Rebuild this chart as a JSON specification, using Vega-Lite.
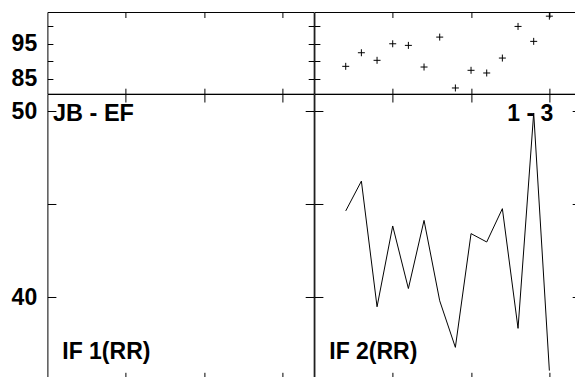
{
  "$schema": "https://vega.github.io/schema/vega-lite/v6.json",
  "padding": {"left": 10.4, "top": 10, "right": 0, "bottom": 0},
  "background": "white",
  "config": {"view": {"stroke": "black", "strokeWidth": 1}},
  "columns": 2,
  "spacing": 0,
  "align": "each",
  "bounds": "flush",
  "datasets": {
    "dots": [
      {"x": 2, "y": 88.54}, {"x": 3, "y": 92.43}, {"x": 4, "y": 90.26}, {"x": 5, "y": 95.0},
      {"x": 6, "y": 94.54}, {"x": 7, "y": 88.34}, {"x": 8, "y": 96.91}, {"x": 9, "y": 82.34},
      {"x": 10, "y": 87.4}, {"x": 11, "y": 86.63}, {"x": 12, "y": 90.91}, {"x": 13, "y": 99.97},
      {"x": 14, "y": 95.69}, {"x": 15, "y": 102.91}
    ],
    "line": [
      {"x": 2, "y": 44.65}, {"x": 3, "y": 46.25}, {"x": 4, "y": 39.5}, {"x": 5, "y": 43.84},
      {"x": 6, "y": 40.48}, {"x": 7, "y": 44.14}, {"x": 8, "y": 39.82}, {"x": 9, "y": 37.32},
      {"x": 10, "y": 43.43}, {"x": 11, "y": 42.98}, {"x": 12, "y": 44.77}, {"x": 13, "y": 38.34},
      {"x": 14, "y": 49.91}, {"x": 15, "y": 36.07}
    ]
  },
  "concat": [
    {
      "width": 266.3, "height": 81.7,
      "layer": [
        {"data": {"values": [{}]}, "mark": {"type": "point", "opacity": 0},
         "encoding": {
           "x": {"datum": 8.5, "type": "quantitative", "scale": {"domain": [0, 17], "nice": false, "zero": false},
                 "axis": {"orient": "bottom", "values": [5, 10, 15], "labels": false, "tickSize": -5.5, "domain": false, "grid": false, "tickColor": "black", "title": null}},
           "y": {"datum": 92, "type": "quantitative", "scale": {"domain": [80.7, 104.1], "nice": false, "zero": false},
                 "axis": {"orient": "left", "values": [85, 90, 95, 100], "labelExpr": "datum.value % 10 == 5 ? datum.label : ''", "tickSize": -5.5, "labelPadding": 16.2, "labelFont": "Liberation Sans", "labelFontSize": 23, "labelFontWeight": "bold", "labelColor": "black", "labelFlush": false, "labelOverlap": false, "domain": false, "grid": false, "tickColor": "black", "title": null}}
         }},
        {"data": {"values": [{}]}, "mark": {"type": "point", "opacity": 0},
         "encoding": {
           "x": {"datum": 8.5, "type": "quantitative", "scale": {"domain": [0, 17], "nice": false, "zero": false},
                 "axis": {"orient": "top", "values": [5, 10, 15], "labels": false, "tickSize": -5.5, "domain": false, "grid": false, "tickColor": "black", "title": null}},
           "y": {"datum": 92, "type": "quantitative", "scale": {"domain": [80.7, 104.1], "nice": false, "zero": false},
                 "axis": {"orient": "right", "values": [85, 90, 95, 100], "labels": false, "tickSize": -5.5, "domain": false, "grid": false, "tickColor": "black", "title": null}}
         }}
      ],
      "resolve": {"axis": {"x": "independent", "y": "independent"}}
    },
    {
      "width": 266.3, "height": 81.7,
      "layer": [
        {"data": {"values": [{}]}, "mark": {"type": "point", "opacity": 0},
         "encoding": {
           "x": {"datum": 8.5, "type": "quantitative", "scale": {"domain": [0, 17], "nice": false, "zero": false},
                 "axis": {"orient": "bottom", "values": [5, 10, 15], "labels": false, "tickSize": -5.5, "domain": false, "grid": false, "tickColor": "black", "title": null}},
           "y": {"datum": 92, "type": "quantitative", "scale": {"domain": [80.7, 104.1], "nice": false, "zero": false},
                 "axis": {"orient": "left", "values": [85, 90, 95, 100], "labels": false, "tickSize": -5.5, "domain": false, "grid": false, "tickColor": "black", "title": null}}
         }},
        {"data": {"values": [{}]}, "mark": {"type": "point", "opacity": 0},
         "encoding": {
           "x": {"datum": 8.5, "type": "quantitative", "scale": {"domain": [0, 17], "nice": false, "zero": false},
                 "axis": {"orient": "top", "values": [5, 10, 15], "labels": false, "tickSize": -5.5, "domain": false, "grid": false, "tickColor": "black", "title": null}},
           "y": {"datum": 92, "type": "quantitative", "scale": {"domain": [80.7, 104.1], "nice": false, "zero": false},
                 "axis": {"orient": "right", "values": [85, 90, 95, 100], "labels": false, "tickSize": -5.5, "domain": false, "grid": false, "tickColor": "black", "title": null}}
         }},
        {"data": {"name": "dots"},
         "mark": {"type": "point", "shape": "M-1,0H1M0,-1V1", "size": 49, "filled": false, "stroke": "black", "strokeWidth": 1, "opacity": 1},
         "encoding": {
           "x": {"field": "x", "type": "quantitative", "scale": {"domain": [0, 17], "nice": false, "zero": false}, "axis": null},
           "y": {"field": "y", "type": "quantitative", "scale": {"domain": [80.7, 104.1], "nice": false, "zero": false}, "axis": null}
         }}
      ],
      "resolve": {"axis": {"x": "independent", "y": "independent"}}
    },
    {
      "width": 266.3, "height": 286.3,
      "layer": [
        {"data": {"values": [{}]}, "mark": {"type": "point", "opacity": 0},
         "encoding": {
           "x": {"datum": 8.5, "type": "quantitative", "scale": {"domain": [0, 17], "nice": false, "zero": false},
                 "axis": {"orient": "bottom", "values": [5, 10, 15], "labels": false, "tickSize": -8, "domain": false, "grid": false, "tickColor": "black", "title": null}},
           "y": {"datum": 43, "type": "quantitative", "scale": {"domain": [35.55, 50.93], "nice": false, "zero": false},
                 "axis": {"orient": "left", "values": [40, 45, 50], "labelExpr": "datum.value % 10 == 0 ? datum.label : ''", "tickSize": -8.5, "labelPadding": 19.2, "labelFont": "Liberation Sans", "labelFontSize": 23, "labelFontWeight": "bold", "labelColor": "black", "labelFlush": false, "labelOverlap": false, "domain": false, "grid": false, "tickColor": "black", "title": null}}
         }},
        {"data": {"values": [{}]}, "mark": {"type": "point", "opacity": 0},
         "encoding": {
           "x": {"datum": 8.5, "type": "quantitative", "scale": {"domain": [0, 17], "nice": false, "zero": false},
                 "axis": {"orient": "top", "values": [5, 10, 15], "labels": false, "tickSize": -8, "domain": false, "grid": false, "tickColor": "black", "title": null}},
           "y": {"datum": 43, "type": "quantitative", "scale": {"domain": [35.55, 50.93], "nice": false, "zero": false},
                 "axis": {"orient": "right", "values": [40, 45, 50], "labels": false, "tickSize": -8.5, "domain": false, "grid": false, "tickColor": "black", "title": null}}
         }},
        {"data": {"values": [{"label": "JB - EF"}]},
         "mark": {"type": "text", "align": "left", "baseline": "alphabetic", "font": "Liberation Sans", "fontSize": 23.5, "fontWeight": "bold", "color": "black"},
         "encoding": {
           "x": {"datum": 0.36, "type": "quantitative", "scale": {"domain": [0, 17], "nice": false, "zero": false}, "axis": null},
           "y": {"datum": 49.47, "type": "quantitative", "scale": {"domain": [35.55, 50.93], "nice": false, "zero": false}, "axis": null},
           "text": {"field": "label"}
         }},
        {"data": {"values": [{"label": "IF 1(RR)"}]},
         "mark": {"type": "text", "align": "left", "baseline": "alphabetic", "font": "Liberation Sans", "fontSize": 23, "fontWeight": "bold", "color": "black"},
         "encoding": {
           "x": {"datum": 0.95, "type": "quantitative", "scale": {"domain": [0, 17], "nice": false, "zero": false}, "axis": null},
           "y": {"datum": 36.68, "type": "quantitative", "scale": {"domain": [35.55, 50.93], "nice": false, "zero": false}, "axis": null},
           "text": {"field": "label"}
         }}
      ],
      "resolve": {"axis": {"x": "independent", "y": "independent"}}
    },
    {
      "width": 266.3, "height": 286.3,
      "layer": [
        {"data": {"values": [{}]}, "mark": {"type": "point", "opacity": 0},
         "encoding": {
           "x": {"datum": 8.5, "type": "quantitative", "scale": {"domain": [0, 17], "nice": false, "zero": false},
                 "axis": {"orient": "bottom", "values": [5, 10, 15], "labels": false, "tickSize": -8, "domain": false, "grid": false, "tickColor": "black", "title": null}},
           "y": {"datum": 43, "type": "quantitative", "scale": {"domain": [35.55, 50.93], "nice": false, "zero": false},
                 "axis": {"orient": "left", "values": [40, 45, 50], "labels": false, "tickSize": -8.5, "domain": false, "grid": false, "tickColor": "black", "title": null}}
         }},
        {"data": {"values": [{}]}, "mark": {"type": "point", "opacity": 0},
         "encoding": {
           "x": {"datum": 8.5, "type": "quantitative", "scale": {"domain": [0, 17], "nice": false, "zero": false},
                 "axis": {"orient": "top", "values": [5, 10, 15], "labels": false, "tickSize": -8, "domain": false, "grid": false, "tickColor": "black", "title": null}},
           "y": {"datum": 43, "type": "quantitative", "scale": {"domain": [35.55, 50.93], "nice": false, "zero": false},
                 "axis": {"orient": "right", "values": [40, 45, 50], "labels": false, "tickSize": -8.5, "domain": false, "grid": false, "tickColor": "black", "title": null}}
         }},
        {"data": {"name": "line"},
         "mark": {"type": "line", "color": "black", "strokeWidth": 1, "clip": true},
         "encoding": {
           "x": {"field": "x", "type": "quantitative", "scale": {"domain": [0, 17], "nice": false, "zero": false}, "axis": null},
           "y": {"field": "y", "type": "quantitative", "scale": {"domain": [35.55, 50.93], "nice": false, "zero": false}, "axis": null}
         }},
        {"data": {"values": [{"label": "1 - 3"}]},
         "mark": {"type": "text", "align": "right", "baseline": "alphabetic", "font": "Liberation Sans", "fontSize": 23, "fontWeight": "bold", "color": "black"},
         "encoding": {
           "x": {"datum": 15.25, "type": "quantitative", "scale": {"domain": [0, 17], "nice": false, "zero": false}, "axis": null},
           "y": {"datum": 49.47, "type": "quantitative", "scale": {"domain": [35.55, 50.93], "nice": false, "zero": false}, "axis": null},
           "text": {"field": "label"}
         }},
        {"data": {"values": [{"label": "IF 2(RR)"}]},
         "mark": {"type": "text", "align": "left", "baseline": "alphabetic", "font": "Liberation Sans", "fontSize": 23, "fontWeight": "bold", "color": "black"},
         "encoding": {
           "x": {"datum": 0.95, "type": "quantitative", "scale": {"domain": [0, 17], "nice": false, "zero": false}, "axis": null},
           "y": {"datum": 36.68, "type": "quantitative", "scale": {"domain": [35.55, 50.93], "nice": false, "zero": false}, "axis": null},
           "text": {"field": "label"}
         }}
      ],
      "resolve": {"axis": {"x": "independent", "y": "independent"}}
    }
  ]
}
